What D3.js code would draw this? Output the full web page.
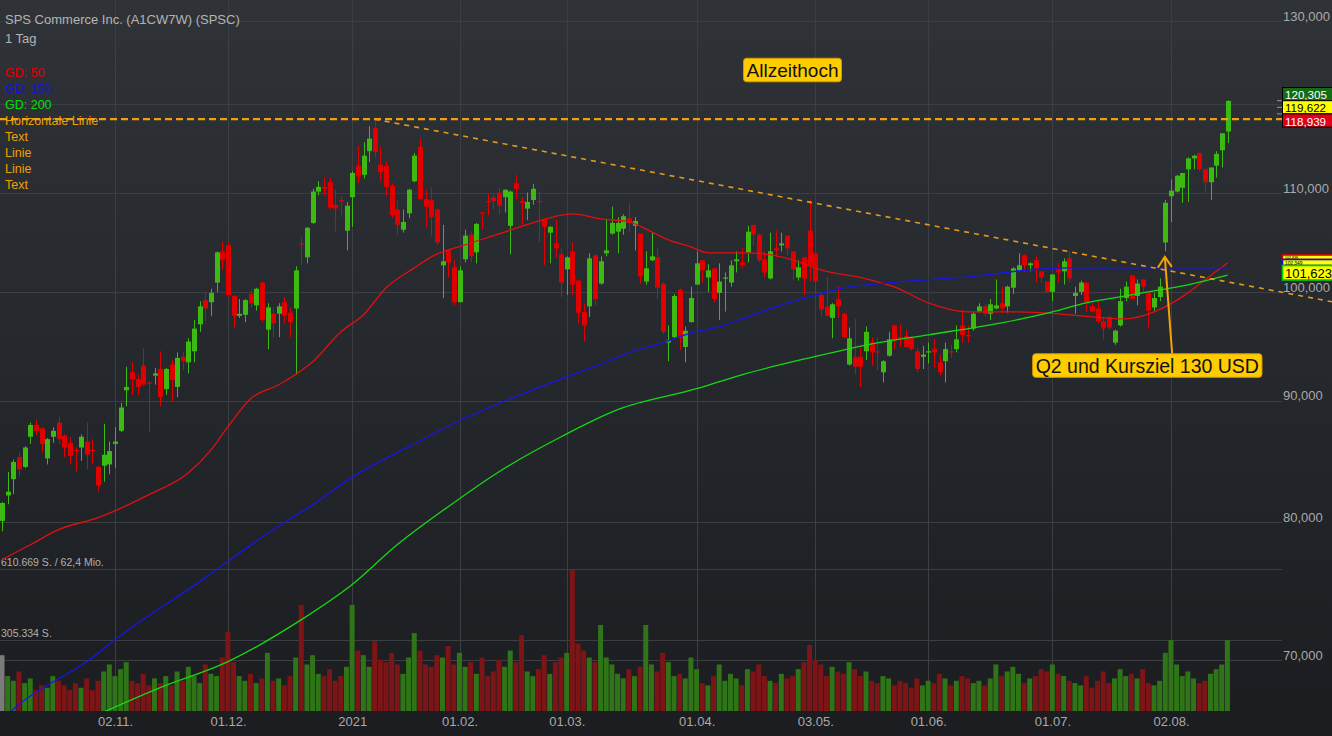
<!DOCTYPE html>
<html><head><meta charset="utf-8">
<script src="https://cdn.jsdelivr.net/npm/d3@7"></script>
<style>
html,body{margin:0;padding:0;background:#1b1d21;overflow:hidden}
svg{display:block}
text{font-family:"Liberation Sans",Arial,Helvetica,sans-serif}
</style></head><body>
<svg id="c" width="1332" height="736"></svg>
<script>
// ---- data (index = trading day, 0 = 05.10.2020) ----
const openP=[80.1,82.1,83.4,85.2,84.4,86.9,87.9,87.6,85.1,86.9,88.1,87.0,86.4,85.8,86.0,86.5,85.8,84.4,84.5,84.6,86.3,87.4,90.9,92.5,91.9,93.1,91.6,92.2,92.8,91.0,93.2,91.2,93.9,93.4,94.4,96.9,99.2,99.0,100.9,104.0,104.6,99.6,97.7,97.8,99.8,98.7,100.9,96.4,97.9,97.9,99.0,98.0,98.4,104.8,103.4,106.9,110.2,110.7,111.2,108.8,109.3,106.1,109.6,113.0,112.0,114.6,117.2,113.1,113.0,110.8,108.3,106.2,107.9,111.3,115.1,109.4,109.3,108.3,102.6,104.1,102.4,99.0,103.2,105.7,103.9,108.0,109.2,109.6,110.1,109.6,106.6,111.1,109.2,108.4,109.3,109.2,107.3,105.9,104.8,103.7,102.2,104.0,101.1,98.1,98.6,103.6,100.8,103.8,105.8,106.0,106.3,107.4,106.6,105.8,101.0,103.1,103.4,100.8,95.2,95.7,100.2,94.8,97.1,100.7,103.1,101.4,102.3,99.9,101.3,100.9,103.0,102.9,103.9,106.7,105.7,103.2,101.3,104.3,104.6,105.6,104.0,101.4,103.4,106.1,103.8,99.7,98.6,97.5,99.3,97.9,93.2,93.9,93.9,94.4,95.2,94.4,92.5,94.0,96.8,95.7,95.8,95.7,94.4,93.9,94.3,94.6,93.4,93.5,94.4,94.6,96.8,95.9,96.5,98.1,98.6,97.9,98.4,98.9,98.6,100.4,102.1,103.6,102.6,103.1,102.0,101.0,100.0,102.2,102.0,103.3,99.6,100.0,100.9,98.6,98.4,97.2,97.6,95.2,96.8,99.4,101.6,99.6,101.2,99.9,98.5,99.5,104.9,109.7,110.2,110.6,112.6,113.8,114.4,112.6,111.2,113.0,114.7,116.8];
const highP=[81.6,84.0,85.0,85.6,86.1,88.1,88.4,87.7,86.8,87.7,88.6,87.1,86.9,86.0,87.1,88.1,86.7,84.5,88.0,86.5,87.7,89.8,93.0,93.4,92.3,94.7,91.7,92.9,94.4,92.9,93.6,94.3,94.3,95.6,97.3,99.1,99.9,100.3,104.0,105.0,105.0,99.7,99.3,99.3,100.3,100.4,101.0,98.9,98.5,98.9,99.5,98.5,102.5,105.4,106.5,110.5,111.3,111.7,111.7,110.4,109.7,109.1,112.4,115.2,115.6,117.4,118.1,115.1,113.5,111.1,109.2,108.3,110.5,114.4,116.0,110.4,110.6,108.4,106.7,104.2,103.1,102.5,106.2,106.0,106.9,108.0,110.0,110.0,110.6,110.4,110.3,112.0,109.6,110.1,111.0,110.2,107.4,106.6,107.2,104.3,103.5,104.9,101.2,98.9,103.8,103.7,103.5,107.2,108.6,107.5,107.8,109.0,107.5,105.8,104.0,105.9,104.4,100.9,96.8,99.8,100.3,96.7,100.5,104.0,103.1,102.7,102.3,102.8,101.9,103.1,104.0,104.4,106.6,106.7,105.8,104.0,105.9,106.1,105.9,105.6,104.0,103.1,103.4,109.4,103.8,99.8,101.4,98.9,100.5,98.0,96.6,97.4,94.7,96.7,95.7,95.7,93.6,96.2,96.9,96.9,96.4,95.8,94.7,94.9,95.2,95.5,94.1,95.2,95.0,96.8,98.3,96.8,98.1,98.9,98.8,99.3,101.2,100.5,100.6,102.4,103.8,103.7,102.9,103.5,102.0,101.0,101.7,102.8,103.3,104.0,100.5,101.1,101.0,98.9,99.3,97.6,97.7,96.4,100.3,101.0,101.6,101.2,101.2,100.0,99.9,101.3,109.3,111.5,112.0,112.2,113.9,114.2,114.4,112.7,112.8,114.6,116.6,120.4];
const lowP=[79.3,81.4,82.2,83.6,84.3,86.3,87.0,85.6,84.6,86.4,86.3,85.2,84.6,84.0,84.9,84.2,84.6,82.4,83.2,83.8,84.3,87.3,89.5,90.5,90.5,91.3,87.3,91.4,89.5,90.5,89.9,90.3,92.7,92.4,93.4,96.2,97.2,97.7,100.0,102.2,99.4,96.6,97.5,97.1,98.5,98.2,97.1,94.6,95.7,95.7,97.0,95.7,92.3,102.6,102.8,106.8,109.8,109.8,108.3,106.0,107.5,104.1,106.5,111.1,111.6,113.4,113.9,111.3,109.7,107.4,105.7,105.9,107.4,111.2,109.3,106.5,105.5,104.6,99.4,101.4,98.7,99.0,102.9,102.9,102.8,106.2,107.7,108.3,107.8,108.0,103.7,109.4,106.7,107.2,108.8,104.9,102.6,102.8,103.4,99.5,99.7,99.7,97.0,95.3,97.6,98.7,100.7,103.5,105.7,103.8,105.7,105.9,104.1,100.8,100.7,103.0,99.3,96.0,93.5,95.6,94.5,93.4,97.1,100.7,100.9,100.0,99.0,97.3,98.1,100.5,101.9,102.3,102.9,104.6,102.9,101.4,101.2,103.4,104.0,103.6,101.1,101.1,99.7,101.0,99.9,97.6,97.6,95.6,97.5,95.6,93.1,92.3,91.2,93.6,93.1,92.7,91.6,93.9,94.6,94.8,94.7,94.5,92.5,92.8,93.3,92.9,92.2,91.6,93.8,94.3,95.2,95.2,96.3,98.0,97.6,97.3,98.3,98.0,98.0,99.8,102.0,101.9,102.0,100.9,100.9,99.9,99.1,100.9,100.7,100.9,97.9,99.7,98.1,98.0,97.0,95.5,96.4,95.0,96.7,99.1,99.3,98.7,99.9,96.5,98.2,99.1,104.0,107.0,110.1,109.0,109.1,112.6,112.4,110.0,109.3,111.7,112.8,115.5];
const closeP=[81.5,82.4,84.8,84.2,86.0,87.9,87.4,86.3,86.7,87.4,86.7,86.0,85.3,85.7,86.9,85.4,85.7,82.9,85.4,85.7,86.5,89.4,91.2,91.9,91.2,91.4,91.5,92.4,90.3,92.8,91.8,93.8,93.5,95.3,96.5,98.6,98.4,99.9,103.9,103.1,99.7,97.7,97.9,99.2,98.9,100.3,97.3,98.5,97.0,98.6,97.7,97.1,102.1,104.7,106.4,110.2,110.7,110.5,108.5,108.4,109.2,108.7,112.2,111.8,114.1,116.0,114.5,112.3,110.7,107.7,106.7,107.0,110.4,114.1,109.4,108.6,107.5,104.9,103.0,102.9,99.0,102.1,105.6,103.5,106.8,107.9,109.1,109.2,108.7,110.4,110.2,110.5,109.0,109.1,110.5,109.1,106.5,106.5,104.3,100.9,103.4,100.7,98.0,96.8,103.3,99.3,103.0,104.1,106.9,106.9,107.6,106.9,107.1,101.5,102.3,103.5,100.4,96.2,95.4,99.6,95.6,96.3,99.4,102.8,102.1,102.1,99.3,101.0,101.4,102.6,103.2,102.6,106.0,105.7,103.1,101.9,104.0,104.1,104.8,104.3,102.2,102.4,101.3,102.6,101.0,98.3,97.7,98.8,98.6,95.7,95.6,93.0,93.0,96.2,94.3,94.3,93.5,95.5,95.4,95.6,94.8,94.6,92.8,94.1,94.4,94.3,92.5,94.6,94.3,95.5,95.9,95.8,97.9,98.6,97.9,98.8,98.7,98.4,100.5,102.3,102.6,102.6,102.8,102.3,101.4,100.0,101.7,101.9,103.0,101.3,99.9,100.9,99.0,98.1,97.2,96.5,96.6,96.3,99.1,100.5,99.3,100.8,100.5,98.2,99.4,100.5,109.0,110.3,111.9,112.2,113.8,114.1,112.6,111.2,112.8,114.3,116.6,120.305];
// volume in thousand shares
const volumeK=[240,150,130,170,120,140,90,110,100,150,130,110,90,120,100,140,90,130,170,200,150,180,210,130,120,160,110,140,120,150,110,170,130,190,150,120,200,160,150,230,340,210,150,130,160,120,140,250,130,140,110,150,230,456,200,240,160,150,180,130,150,190,456,260,240,190,300,220,210,250,200,160,230,335,260,200,190,240,230,280,200,250,190,210,160,230,150,170,220,190,260,210,327,170,150,180,240,160,210,230,250,606,290,260,230,210,370,230,200,160,140,180,150,190,370,200,170,250,210,150,160,140,230,180,120,110,150,200,130,160,140,110,180,170,200,150,130,120,160,140,150,180,210,284,220,200,150,190,170,160,210,180,150,170,130,120,150,140,110,130,120,100,140,110,130,120,160,140,110,130,150,140,120,130,110,140,200,150,170,190,160,120,140,150,180,170,200,160,150,130,120,110,150,100,130,170,120,140,180,150,160,140,180,120,110,130,250,305,200,150,170,140,120,130,160,180,200,305];
// moving averages
const ma50Idx=[0,5,10,17,26,33,37,40,44,49,55,60,64,68,73,76,82,88,94,101,106,111,115,118,122,125,132,140,145,153,158,164,171,180,189,199,204,210,213,217];
const ma50=[77.15,78.27,79.42,80.35,82.16,83.93,85.81,87.75,90.16,91.39,93.45,96.20,97.80,100.39,102.35,103.45,104.66,105.77,106.91,107.84,107.32,107.01,105.98,105.16,104.45,103.85,103.85,103.15,102.15,101.27,100.48,98.94,98.08,98.08,97.80,97.42,98.08,99.90,101.17,102.84];
const ma150Idx=[0,3,16,20,35,48,55,63,72,81,90,99,108,111,117,122,127,132,137,143,149,155,161,171,182,189,217];
const ma150=[66.1,67.05,70.17,71.40,75.52,79.42,81.37,83.85,86.07,88.26,90.16,91.92,93.63,94.27,95.18,96.11,96.67,97.61,98.56,99.52,100.39,100.78,101.07,101.46,102.15,102.35,102.35];
const ma200Idx=[17,28,40,53,62,70,79,88,99,109,123,131,143,155,164,177,186,192,198,205,210,217];
const ma200=[66.4,68.15,69.89,72.79,75.31,78.28,81.21,84.01,86.90,89.21,91.04,92.28,93.81,95.18,95.92,97.04,98.08,98.94,99.52,100.19,100.68,101.62];
const tickIdx=[20,40,62,81,100,123,144,164,186,207];
const tickLabels=["02.11.","01.12.","2021","01.02.","01.03.","01.04.","03.05.","01.06.","01.07.","02.08."];
const priceTicks=[70,80,90,100,110,120,130];
// 120,000 is hidden behind the price boxes in the reference
const labelTicks=[70,80,90,100,110,130];
const labelTickText=["70,000","80,000","90,000","100,000","110,000","130,000"];
const volMaxK=610.669;
const hLineLevel=118.2;
const trendPts=[[66,118.2],[235.5,99.04]];
const topBoxes=[["120,305","#136b13","#000","#fff"],["119,622","#ffff00","#000","#000"],["118,939","#e0001a","#000","#fff"]];
const maBoxes=[["102,838","#ffff00","#e00000"],["102,349","#ffff00","#1010e0"],["101,623","#ffff00","#00d000"]];
const legend=[["GD: 50","#e00000"],["GD: 150","#1515d0"],["GD: 200","#00e000"],["Horizontale Linie","#f0a000"],["Text","#f0a000"],["Linie","#f0a000"],["Linie","#f0a000"],["Text","#f0a000"]];

// ---- layout ----
const W=1332,H=736,plotR=1282,plotB=711;
const svg=d3.select("#c");
const defs=svg.append("defs");
const g=defs.append("linearGradient").attr("id","bg").attr("x1",0).attr("y1",0).attr("x2",0).attr("y2",1);
g.append("stop").attr("offset","0%").attr("stop-color","#2f3337");
g.append("stop").attr("offset","100%").attr("stop-color","#1b1d21");
defs.append("clipPath").attr("id","clip").append("rect").attr("x",0).attr("y",0).attr("width",W).attr("height",plotB);
svg.append("rect").attr("width",W).attr("height",plotB).attr("fill","url(#bg)");
svg.append("rect").attr("y",plotB).attr("width",W).attr("height",H-plotB).attr("fill","#1b1d21");

const x=d3.scaleLinear().domain([0,217]).range([2.1,1227.5]);
const y=d3.scaleLog().domain([70,130]).range([660,21]);
const yv=d3.scaleLinear().domain([0,volMaxK]).range([plotB,569]);

const gridC="#3b3f43";
svg.append("g").selectAll("line").data(priceTicks).join("line")
  .attr("x1",0).attr("x2",plotR).attr("y1",d=>Math.round(y(d))+0.5).attr("y2",d=>Math.round(y(d))+0.5)
  .attr("stroke",gridC).attr("stroke-width",1);
svg.append("g").selectAll("line").data([volMaxK,volMaxK/2]).join("line")
  .attr("x1",0).attr("x2",plotR).attr("y1",d=>Math.round(yv(d))+0.5).attr("y2",d=>Math.round(yv(d))+0.5)
  .attr("stroke",gridC).attr("stroke-width",1);
svg.append("g").selectAll("line").data(tickIdx).join("line")
  .attr("x1",d=>Math.round(x(d))+0.5).attr("x2",d=>Math.round(x(d))+0.5).attr("y1",0).attr("y2",plotB)
  .attr("stroke",gridC).attr("stroke-width",1);

const xAxis=d3.axisBottom(x).tickValues(tickIdx).tickFormat((d,i)=>tickLabels[i]).tickSize(0).tickPadding(6);
const xa=svg.append("g").attr("transform",`translate(0,${plotB})`).call(xAxis);
xa.select(".domain").remove();
xa.selectAll("text").attr("fill","#a9a9a9").attr("font-size",13).attr("font-family","Liberation Sans, Arial");

const yAxis=d3.axisRight(y).tickValues(labelTicks).tickFormat((d,i)=>labelTickText[i]).tickSize(0).tickPadding(0);
const ya=svg.append("g").attr("transform",`translate(${plotR+1},0)`).call(yAxis);
ya.select(".domain").remove();
ya.selectAll("text").attr("fill","#a9a9a9").attr("font-size",13).attr("dy","-0.05em").attr("font-family","Liberation Sans, Arial");

svg.append("text").attr("x",1).attr("y",yv(volMaxK)-3).attr("fill","#b0b0b0").attr("font-size",10.5).text("610.669 S. / 62,4 Mio.");
svg.append("text").attr("x",1).attr("y",yv(volMaxK/2)-3).attr("fill","#b0b0b0").attr("font-size",10.5).text("305.334 S.");

const idx=d3.range(openP.length);
const up=i=>closeP[i]>=openP[i];
const clip=svg.append("g").attr("clip-path","url(#clip)");
clip.append("g").selectAll("rect").data(idx).join("rect")
  .attr("x",i=>x(i)-2.6).attr("width",5.0)
  .attr("y",i=>yv(volumeK[i])).attr("height",i=>plotB-yv(volumeK[i]))
  .attr("fill",i=>i===0?"#7a7a7a":(up(i)?"#2f7417":"#7d1416"));

const cg=clip.append("g");
cg.selectAll("line").data(idx).join("line")
  .attr("x1",i=>Math.round(x(i))+0.5).attr("x2",i=>Math.round(x(i))+0.5)
  .attr("y1",i=>y(highP[i])).attr("y2",i=>y(lowP[i]))
  .attr("stroke",i=>up(i)?"#3cba12":"#e00000").attr("stroke-width",1);
cg.selectAll("rect").data(idx).join("rect")
  .attr("x",i=>Math.round(x(i))+0.5-2.5).attr("width",5)
  .attr("y",i=>y(Math.max(openP[i],closeP[i])))
  .attr("height",i=>Math.max(1.2,Math.abs(y(openP[i])-y(closeP[i]))))
  .attr("fill",i=>up(i)?"#3cba12":"#e00000");

const line=d3.line().x(d=>x(d[0])).y(d=>y(d[1])).curve(d3.curveMonotoneX);
const mas=[[ma50Idx,ma50,"#e01010"],[ma150Idx,ma150,"#1717e8"],[ma200Idx,ma200,"#16d816"]];
mas.forEach(([ix,v,c])=>{
  clip.append("path").datum(ix.map((d,k)=>[d,v[k]])).attr("d",line)
    .attr("fill","none").attr("stroke",c).attr("stroke-width",1.3);
});

svg.append("text").attr("x",5).attr("y",24).attr("fill","#b4b4b4").attr("font-size",13).text("SPS Commerce Inc. (A1CW7W) (SPSC)");
svg.append("text").attr("x",5).attr("y",43).attr("fill","#b4b4b4").attr("font-size",13).text("1 Tag");
svg.append("g").selectAll("text").data(legend).join("text")
  .attr("x",5).attr("y",(d,k)=>77+k*16).attr("fill",d=>d[1]).attr("font-size",12.5).text(d=>d[0]);

svg.append("line").attr("x1",0).attr("x2",plotR).attr("y1",y(hLineLevel)).attr("y2",y(hLineLevel))
  .attr("stroke","#f0a010").attr("stroke-width",2.2).attr("stroke-dasharray","7,4");
svg.append("line").attr("x1",x(trendPts[0][0])).attr("y1",y(trendPts[0][1]))
  .attr("x2",x(trendPts[1][0])).attr("y2",y(trendPts[1][1]))
  .attr("stroke","#e49a1c").attr("stroke-width",1.6).attr("stroke-dasharray","5,5");

function box(cx,cy,txt,fs){
  const gg=svg.append("g");
  const t=gg.append("text").attr("x",cx).attr("y",cy+1).attr("text-anchor","middle").attr("dominant-baseline","central")
    .attr("font-size",fs).attr("fill","#111").text(txt);
  const w=t.node().getComputedTextLength();
  gg.insert("rect","text").attr("x",cx-w/2-3).attr("y",cy-11.5).attr("width",w+6).attr("height",23.5).attr("rx",3)
    .attr("fill","#ffcc00").attr("stroke","#d89a00").attr("stroke-width",1);
}
box(x(139.97),y(124.0),"Allzeithoch",19);
const ax1=x(207.2),ay1=y(94.18),ax2=x(205.9),ay2=y(103.45);
svg.append("line").attr("x1",ax1).attr("y1",ay1).attr("x2",ax2).attr("y2",ay2).attr("stroke","#f5a300").attr("stroke-width",2);
svg.append("path").attr("d",`M${ax2-7},${ay2+11}L${ax2},${ay2}L${ax2+7},${ay2+10}`).attr("fill","none").attr("stroke","#f5a300").attr("stroke-width",2);
box(x(202.8),y(93.13),"Q2 und Kursziel 130 USD",19.5);

// right price boxes
function pbox(top,h,txt,fill,stroke,col,sw,fs){
  const gg=svg.append("g");
  gg.append("rect").attr("x",plotR+0.5).attr("y",top).attr("width",W-plotR+2).attr("height",h)
    .attr("fill",fill).attr("stroke",stroke).attr("stroke-width",sw||1);
  gg.append("text").attr("x",plotR+3).attr("y",top+h/2+0.5).attr("dominant-baseline","central")
    .attr("font-size",fs).attr("fill",col).text(txt);
}
topBoxes.forEach((b,k)=>pbox(87.5+k*13.2,13.2,b[0],b[1],b[2],b[3],1,11.6));
[[100.7],[107.3],[113.9]].forEach(([yy])=>svg.append("line").attr("x1",plotR-5).attr("x2",plotR).attr("y1",yy).attr("y2",yy).attr("stroke","#9a9a9a"));
// partly covered MA value boxes (the two upper ones only show a narrow strip)
const maTops=[255,259.5,265.5];
const maH=[4.5,6,14.5];
const maFs=[3.6,4.8,13];
maBoxes.forEach((b,k)=>pbox(maTops[k],maH[k],b[0],b[1],b[2],"#000",1.6,maFs[k]));
</script>
</body></html>
